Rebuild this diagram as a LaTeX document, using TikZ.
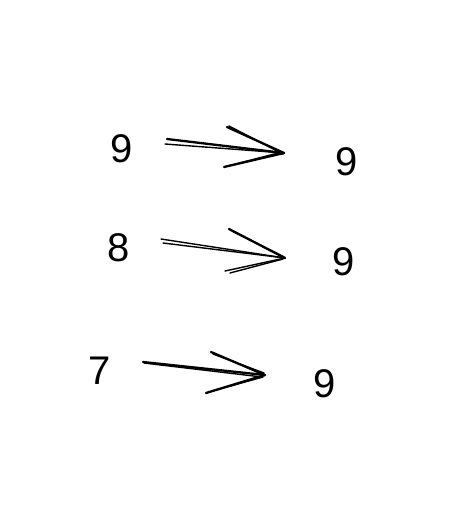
\documentclass[tikz,border=0pt]{standalone}
\usepackage{fontspec}
\setmainfont{Liberation Sans}
\usetikzlibrary{calc}
\begin{document}
\begin{tikzpicture}[x=1pt,y=-1pt,
  num/.style={inner sep=0pt,font=\fontsize{40}{40}\selectfont},
  pen/.style={line width=2.3pt,line cap=round,black},
  thinpen/.style={line width=1.4pt,line cap=round,black}]
\useasboundingbox (0,0) rectangle (460,528);
% numbers
\node[num] (a1) at (122,149) {9};
\node[num] (b1) at (347,162) {9};
\node[num] (a2) at (119,248) {8};
\node[num] (b2) at (344,262) {9};
\node[num] (a3) at (100,371) {7};
\node[num] (b3) at (325,384) {9};
% arrow 1
\coordinate (s1a) at (167,139);
\coordinate (s1b) at (165,144);
\coordinate (t1) at (284,153);
\coordinate (u1) at (227,127);
\coordinate (l1) at (224,167);
\draw[pen] (s1a) -- (t1);
\draw[thinpen] (s1b) -- (t1);
\draw[pen] (u1) -- (t1);
\draw[thinpen] ($(u1)+(2,-1)$) -- ($(t1)+(-1,1)$);
\draw[pen] (l1) -- (t1);
\draw[thinpen] ($(l1)+(4,-1)$) -- ($(t1)+(-2,-1)$);
% arrow 2
\coordinate (s2a) at (161,239);
\coordinate (s2b) at (163,243);
\coordinate (t2) at (285,258);
\coordinate (u2) at (229,229);
\coordinate (l2) at (225,271);
\draw[thinpen] (s2a) -- (t2);
\draw[thinpen] (s2b) -- (t2);
\draw[pen] (u2) -- (t2);
\draw[thinpen] ($(u2)+(3,2)$) -- ($(t2)+(-1,-1)$);
\draw[thinpen] (l2) -- (t2);
\draw[thinpen] ($(l2)+(5,2)$) -- ($(t2)+(-2,1)$);
% arrow 3
\coordinate (s3a) at (143,362);
\coordinate (t3) at (265,375);
\coordinate (u3) at (211,352);
\coordinate (l3) at (206,393);
\draw[pen] (s3a) -- (t3);
\draw[thinpen] ($(s3a)+(1,1)$) -- ($(t3)+(-3,2)$);
\draw[pen] (u3) -- (t3);
\draw[thinpen] ($(u3)+(2,2)$) -- ($(t3)+(-1,-2)$);
\draw[pen] (l3) -- (t3);
\draw[thinpen] ($(l3)+(3,-1)$) -- ($(t3)+(-2,2)$);
\end{tikzpicture}
\end{document}
